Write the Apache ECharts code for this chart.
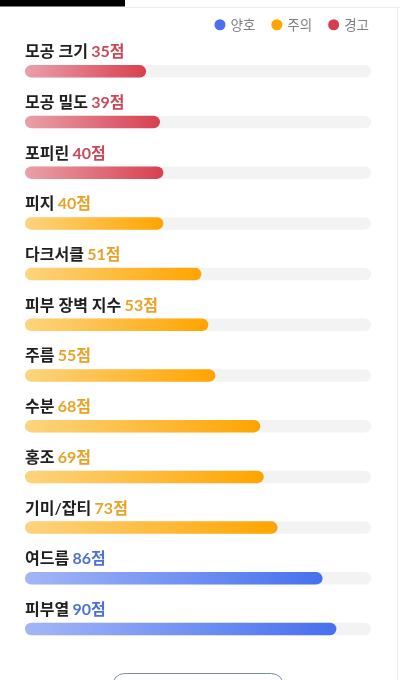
<!DOCTYPE html>
<html><head><meta charset="utf-8">
<script src="https://cdn.jsdelivr.net/npm/echarts@6/dist/echarts.min.js"></script>
<style>html,body{margin:0;padding:0;background:#fff}#c{width:400px;height:680px}</style>
</head><body><div id="c"></div>
<script>
const categories = ['모공 크기','모공 밀도','포피린','피지','다크서클','피부 장벽 지수','주름','수분','홍조','기미/잡티','여드름','피부열'];
const scores = [35,39,40,40,51,53,55,68,69,73,86,90];
const statuses = ['경고','경고','경고','주의','주의','주의','주의','주의','주의','주의','양호','양호'];
const legendNames = ['양호','주의','경고'];

const palette = {
  '양호': {from:'#a3b6f6', to:'#4670ee', text:'#4f72d2', dot:'#4a6ff2'},
  '주의': {from:'#fdd47f', to:'#ffa400', text:'#e8a226', dot:'#ffa500'},
  '경고': {from:'#e9a0aa', to:'#d8404f', text:'#c9495b', dot:'#d43f50'}
};
const FONT = "Lato, 'Noto Sans CJK KR', sans-serif";

const rich = {n:{fontSize:16, fontWeight:600, color:'#1f1f1f', fontFamily:FONT}};
legendNames.forEach((s,i)=>{ rich['v'+i] = {fontSize:16, fontWeight:700, color:palette[s].text, fontFamily:FONT}; });

const series = [{
  type:'bar', name:'track', data: categories.map(()=>100), barWidth:12.5, barGap:'-100%',
  itemStyle:{color:'#f3f3f3', borderRadius:6.25}, silent:true, z:1
}];
legendNames.forEach((s,i)=>{
  series.push({
    type:'bar', name:s, barWidth:12.5, barGap:'-100%', z:2,
    data: scores.map((v,k)=> statuses[k]===s ? v : '-'),
    itemStyle:{borderRadius:6.25, color:new echarts.graphic.LinearGradient(0,0,1,0,[{offset:0,color:palette[s].from},{offset:1,color:palette[s].to}])},
    label:{show:true, position:[0,-21], formatter:p=>'{n|'+p.name+'} {v'+i+'|'+p.value+'점}', rich:rich}
  });
});

const chart = echarts.init(document.getElementById('c'));
chart.setOption({
  animation:false,
  grid:{left:25, right:29, top:45.95, bottom:25.65},
  xAxis:{type:'value', min:0, max:100, show:false},
  yAxis:{type:'category', data:categories, inverse:true, show:false},
  legend:{
    data: legendNames.map(s=>({name:s, itemStyle:{color:palette[s].dot}})),
    icon:'circle', itemWidth:11, itemHeight:11, itemGap:16, right:26, top:13,
    textStyle:{color:'#808080', fontSize:13.5, fontFamily:"'Noto Sans CJK KR', sans-serif"}
  },
  graphic:[
    {type:'rect', shape:{x:0,y:0,width:125,height:6.5}, style:{fill:'#000'}},
    {type:'line', shape:{x1:125,y1:7.5,x2:400,y2:7.5}, style:{stroke:'#ececec', lineWidth:1}},
    {type:'line', shape:{x1:397.5,y1:7,x2:397.5,y2:680}, style:{stroke:'#ececec', lineWidth:1}},
    {type:'rect', shape:{x:112.5,y:673.5,width:171,height:34,r:12}, style:{fill:'#fff', stroke:'#7d8ca3', lineWidth:1}}
  ],
  series:series
});
</script></body></html>
